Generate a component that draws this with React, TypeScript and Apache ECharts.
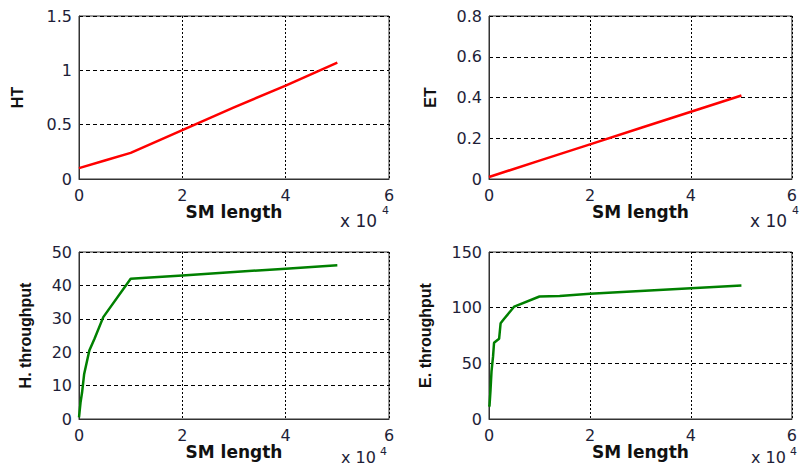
import React, { useEffect, useRef } from "react";
import * as echarts from "echarts";

// x values are SM length (raw units); axis labels shown in units of 10^4
const htX = [0, 5000, 10000, 20000, 30000, 40000, 50000];
const htY = [0.1, 0.17, 0.24, 0.45, 0.66, 0.86, 1.07];

const etX = [0, 10000, 20000, 30000, 40000, 50000];
const etY = [0.01, 0.09, 0.17, 0.25, 0.33, 0.41];

const hThrX = [0, 100, 300, 600, 1000, 2000, 3000, 4700, 10000, 13000, 20000, 30000, 40000, 50000];
const hThrY = [0.5, 2, 5, 8, 13.5, 20.5, 24, 30.5, 42, 42.3, 43, 44, 45, 46];

const eThrX = [0, 100, 300, 500, 800, 1000, 2000, 2300, 3000, 5000, 10000, 14000, 20000, 30000, 40000, 50000];
const eThrY = [11, 12, 26, 43, 56, 68.5, 72, 86, 90, 101, 110, 110.5, 112.5, 115, 117.5, 120];

const xTicks = { min: 0, max: 60000, interval: 20000 };
const yTL = { min: 0, max: 1.5, interval: 0.5, name: "HT", gap: 54 };
const yTR = { min: 0, max: 0.8, interval: 0.2, name: "ET", gap: 51 };
const yBL = { min: 0, max: 50, interval: 10, name: "H. throughput", gap: 46 };
const yBR = { min: 0, max: 150, interval: 50, name: "E. throughput", gap: 56 };

const WIDE = "'DejaVu Sans', Verdana, sans-serif";
const NARROW = "'Liberation Sans', Arial, sans-serif";
const LABEL_COLOR = "#1e1e38";

export default function App() {
  const ref = useRef<HTMLDivElement>(null);
  useEffect(() => {
    if (!ref.current) return;
    const chart = echarts.init(ref.current, undefined, { renderer: "svg" });
    const grids = [
      { left: 79, top: 16, width: 310, height: 163 },
      { left: 489, top: 16, width: 310, height: 163 },
      { left: 79, top: 252, width: 310, height: 167 },
      { left: 489, top: 252, width: 310, height: 167 },
    ].map((g) => ({ ...g, show: true, borderColor: "#333", borderWidth: 1, backgroundColor: "#fff" }));

    const xAxes = [0, 1, 2, 3].map((i) => ({
      gridIndex: i,
      type: "value",
      ...xTicks,
      axisLine: { show: true, lineStyle: { color: "#333", width: 1 } },
      axisTick: { show: false },
      axisLabel: {
        formatter: (v: number) => String(v / 10000),
        fontSize: 16,
        color: LABEL_COLOR,
        fontFamily: WIDE,
        margin: 8,
        showMaxLabel: true,
      },
      splitLine: { show: true, lineStyle: { type: [2, 2], color: "#000", width: 1 } },
      name: "SM length",
      nameLocation: "middle",
      nameGap: 24,
      nameTextStyle: { fontWeight: "bold", fontSize: 17, color: "#111", fontFamily: WIDE },
    }));

    const yCfgs = [yTL, yTR, yBL, yBR];
    const yAxes = yCfgs.map((c, i) => ({
      gridIndex: i,
      type: "value",
      min: c.min,
      max: c.max,
      interval: c.interval,
      axisLine: { show: true, lineStyle: { color: "#333", width: 1 } },
      axisTick: { show: false },
      axisLabel: { fontSize: 16, color: LABEL_COLOR, fontFamily: WIDE, margin: 7 },
      splitLine: { show: true, lineStyle: { type: [4, 3], color: "#000", width: 1 } },
      name: c.name,
      nameLocation: "middle",
      nameGap: c.gap,
      nameRotate: 90,
      nameTextStyle: { fontWeight: "bold", fontSize: 16, color: "#111", fontFamily: NARROW },
    }));

    const mk = (xs: number[], ys: number[], idx: number, color: string) => ({
      type: "line",
      xAxisIndex: idx,
      yAxisIndex: idx,
      data: xs.map((x, k) => [x, ys[k]]),
      symbol: "none",
      lineStyle: { color, width: 2.5 },
      z: 5,
    });

    const expLabel = (left: number, top: number, size: number, supUp: number) => [
      {
        type: "text",
        left,
        top,
        style: { text: "x 10", fontSize: size, fontFamily: WIDE, fill: LABEL_COLOR },
      },
      {
        type: "text",
        left: left + Math.round(size * 2.45),
        top: top - supUp,
        style: { text: "4", fontSize: 11, fontFamily: WIDE, fill: LABEL_COLOR },
      },
    ];

    chart.setOption({
      animation: false,
      grid: grids,
      xAxis: xAxes,
      yAxis: yAxes,
      series: [
        mk(htX, htY, 0, "#ff0000"),
        mk(etX, etY, 1, "#ff0000"),
        mk(hThrX, hThrY, 2, "#008000"),
        mk(eThrX, eThrY, 3, "#008000"),
      ],
      graphic: [
        ...expLabel(340, 212, 17, 7),
        ...expLabel(750, 212, 17, 7),
        ...expLabel(341, 449, 16, 3),
        ...expLabel(751, 449, 16, 3),
      ],
    });
    return () => chart.dispose();
  }, []);
  return (
    <div
      ref={ref}
      style={{ position: "fixed", left: 0, top: 0, width: 800, height: 468, background: "#fff" }}
    />
  );
}
